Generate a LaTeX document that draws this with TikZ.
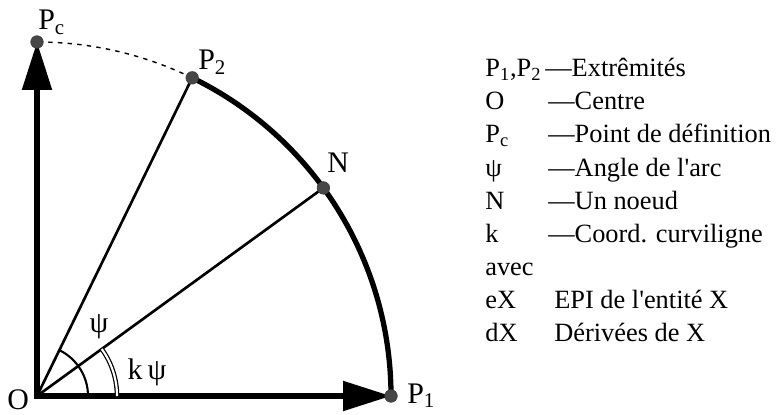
\documentclass[tikz,border=0pt]{standalone}
\usepackage{fontspec}
\setmainfont{Liberation Serif}
\usetikzlibrary{arrows.meta}
\begin{document}
\begin{tikzpicture}[
  pnt/.style={circle,fill=gray!55!black,draw=black!75,line width=.4pt,inner sep=0pt,minimum size=2.5mm},
  axe/.style={line width=3pt,line cap=rect,-{Triangle[length=9.6mm,width=5.8mm]}},
  rayon/.style={line width=1.5pt},
  lbl/.style={inner sep=0pt,anchor=base west,font=\fontsize{17}{20}\selectfont},
  leg/.style={inner sep=0pt,anchor=base west,font=\fontsize{15}{17}\selectfont}]
\useasboundingbox (0,0) rectangle (15.54,8.28);
\coordinate (O) at (0.74,0.36);
\coordinate (P1) at ([shift={(0:7.08)}]O);
\coordinate (N) at ([shift={(36:7.08)}]O);
\coordinate (P2) at ([shift={(64:7.08)}]O);
\coordinate (Pc) at ([shift={(90:7.08)}]O);
\draw[axe] (O) -- (P1);
\draw[axe] (O) -- (Pc);
\draw[rayon] (O) -- (P2);
\draw[rayon] (O) -- (N);
\draw[line width=3pt] (P1) arc[start angle=0,end angle=64,radius=7.08];
\draw[line width=.8pt,dash pattern=on 2.5pt off 3pt] (P2) arc[start angle=64,end angle=90,radius=7.08];
\draw[line width=1.2pt] ([shift={(0:1.02)}]O) arc[start angle=0,end angle=64,radius=1.02];
\draw[double,line width=.7pt,double distance=1.2pt] ([shift={(0:1.6)}]O) arc[start angle=0,end angle=36,radius=1.6];
\node[pnt] (p1) at (P1) {};
\node[pnt] (n) at (N) {};
\node[pnt] (p2) at (P2) {};
\node[pnt] (pc) at (Pc) {};
\node[lbl] (lPc) at (0.76,7.68) {P\textsubscript{c}};
\node[lbl] (lP2) at (3.96,6.88) {P\textsubscript{2}};
\node[lbl] (lN) at (6.54,4.84) {N};
\node[lbl] (lP1) at (8.14,0.22) {P\textsubscript{1}};
\node[lbl] (lO) at (0.14,0.1) {O};
\node[lbl,anchor=center] (lpsi) at (1.98,1.74) {ψ};
\node[lbl,anchor=center] (lkpsi) at (2.94,0.84) {k\,ψ};
% legende
\node[leg] (sym1) at (9.70,6.74) {P\textsubscript{1},P\textsubscript{2}};
\node[leg] (txt1) at (10.90,6.74) {—Extrêmités};
\node[leg] (sym2) at (9.70,6.08) {O};
\node[leg] (txt2) at (10.96,6.08) {—Centre};
\node[leg] (sym3) at (9.70,5.42) {P\textsubscript{c}};
\node[leg] (txt3) at (10.96,5.42) {—Point de définition};
\node[leg] (sym4) at (9.70,4.76) {ψ};
\node[leg] (txt4) at (10.96,4.76) {—Angle de l\textquotesingle arc};
\node[leg] (sym5) at (9.70,4.10) {N};
\node[leg] (txt5) at (10.96,4.10) {—Un noeud};
\node[leg] (sym6) at (9.70,3.44) {k};
\node[leg] (txt6) at (10.96,3.44) {—Coord. curviligne};
\node[leg] (sym7) at (9.70,2.78) {avec};
\node[leg] (sym8) at (9.70,2.12) {eX};
\node[leg] (txt8) at (11.08,2.12) {EPI de l\textquotesingle entité X};
\node[leg] (sym9) at (9.70,1.46) {dX};
\node[leg] (txt9) at (11.08,1.46) {Dérivées de X};
\end{tikzpicture}
\end{document}
